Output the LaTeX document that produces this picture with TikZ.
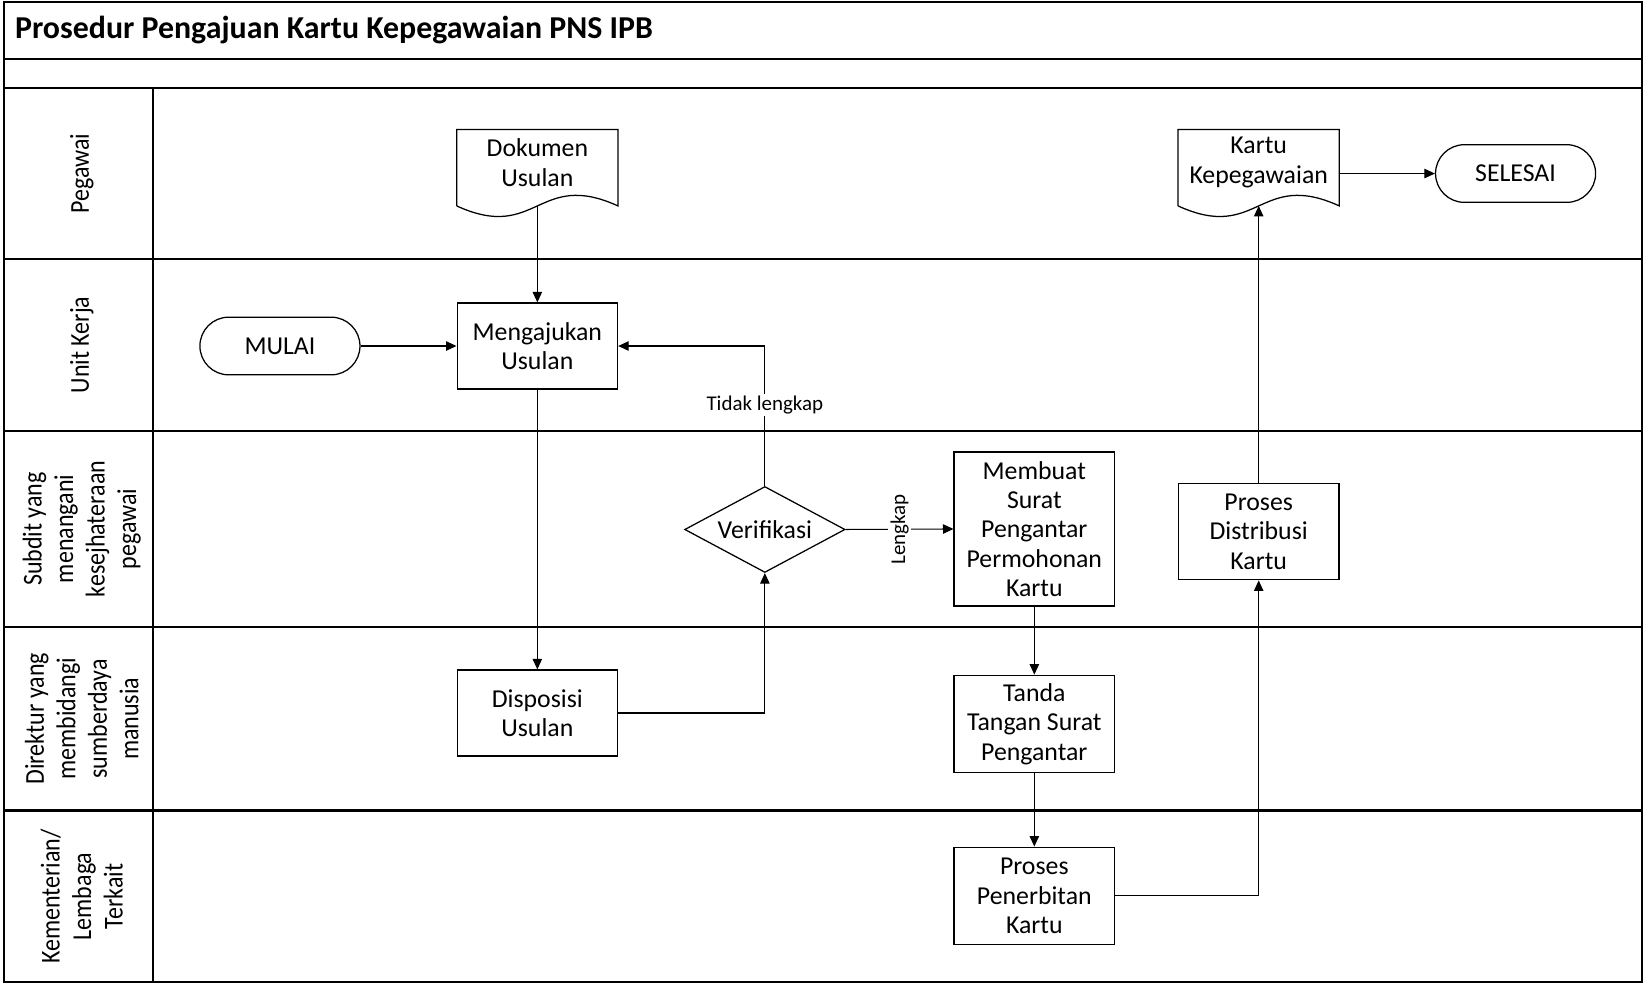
\documentclass[tikz,border=0pt]{standalone}
\usepackage{fontspec}
\setmainfont{Carlito}
\newfontfamily\lanefont[FakeStretch=0.88]{Carlito}
\usetikzlibrary{arrows.meta,shapes.geometric,shapes.misc}

\begin{document}
\begin{tikzpicture}
[x=0.5pt,y=-0.5pt,
  frameDecorate/.style={line width=1pt},
  lineDecorate/.style={-{Triangle[length=5pt,width=4.5pt]},line width=0.5pt},
  laneDecorate/.style={rotate=90,align=center,font=\lanefont\fontsize{13}{15}\selectfont},
  boxDecorate/.style={shape=rectangle,draw,line width=0.6pt,minimum width=76.5pt,
    align=center,inner sep=2pt,font=\fontsize{12.3}{14}\selectfont},
  docDecorate/.style={shape=rectangle,minimum width=76.5pt,minimum height=36pt,
    align=center,inner sep=2pt,font=\fontsize{12.3}{14}\selectfont},
  termDecorate/.style={shape=rounded rectangle,draw,line width=0.6pt,minimum width=83pt,
    minimum height=27.5pt,font=\fontsize{12.3}{14}\selectfont},
  decisionDecorate/.style={shape=diamond,draw,line width=0.6pt,shape aspect=1.87,
    minimum width=76.5pt,minimum height=41pt,inner sep=0pt,font=\fontsize{12.3}{14}\selectfont},
  labelDecorate/.style={fill=white,inner sep=1pt,font=\fontsize{10}{11}\selectfont}]
\useasboundingbox (0,0) rectangle (1568,939);
%% frame and lanes
\draw[frameDecorate] (4,2) rectangle (1566,937);
\draw[frameDecorate] (4,56) -- (1566,56);
\draw[frameDecorate] (4,84) -- (1566,84);
\draw[frameDecorate] (146,84) -- (146,937);
\node[anchor=west,inner sep=1pt,font=\bfseries\fontsize{15.2}{17}\selectfont] (title) at (12,29)
  {Prosedur Pengajuan Kartu Kepegawaian PNS IPB};
\foreach \lanename/\ytop/\ybot/\lanetext in {
  pegawai/84/247/{Pegawai},
  unit/247/411/{Unit Kerja},
  subdit/411/598/{Subdit yang\\menangani\\kesejhateraan\\pegawai},
  direktur/598/773/{Direktur yang\\membidangi\\sumberdaya\\manusia},
  kementerian/773/937/{Kementerian/\\Lembaga\\Terkait}}
{
  \draw[frameDecorate] (4,\ybot) -- (1566,\ybot);
  \node[laneDecorate] (\lanename) at (78,{(\ytop+\ybot)/2}) {\lanetext};
}
%% nodes
\node[termDecorate] (mulai) at (267,330) {MULAI};
\node[docDecorate] (dokumen) at (512.5,155) {Dokumen\\Usulan};
\node[boxDecorate,minimum height=41pt] (mengajukan) at (512.5,330) {Mengajukan\\Usulan};
\node[boxDecorate,minimum height=41pt] (disposisi) at (512.5,680) {Disposisi\\Usulan};
\node[decisionDecorate] (verifikasi) at (729.5,505) {Verifikasi};
\node[boxDecorate,minimum height=73.5pt] (membuat) at (986.5,504.5)
  {Membuat\\Surat\\Pengantar\\Permohonan\\Kartu};
\node[boxDecorate,minimum height=46.5pt] (tanda) at (986.5,690.5)
  {Tanda\\Tangan Surat\\Pengantar};
\node[boxDecorate,minimum height=46.5pt] (penerbitan) at (986.5,854.5)
  {Proses\\Penerbitan\\Kartu};
\node[boxDecorate,minimum height=46pt] (distribusi) at (1200.5,507)
  {Proses\\Distribusi\\Kartu};
\node[docDecorate] (kartu) at (1200.5,155) {Kartu\\Kepegawaian};
\node[termDecorate] (selesai) at (1445.5,165.5) {SELESAI};
%% document outlines
\foreach \docname in {dokumen,kartu}
{
  \draw[line width=0.6pt] ([yshift=-2.5pt]\docname.south west) -- ([yshift=-2.5pt]\docname.north west)
    -- ([yshift=-2.5pt]\docname.north east) -- ([yshift=-2.5pt]\docname.south east)
    .. controls +(-76.5,-35) and +(76.5,35) .. ([yshift=-2.5pt]\docname.south west);
}
%% edges or lines
\draw[lineDecorate] ([yshift=-2.5pt]dokumen.south) -- (mengajukan.north);
\draw[lineDecorate] (mulai.east) -- (mengajukan.west);
\draw[lineDecorate] (mengajukan.south) -- (disposisi.north);
\draw[lineDecorate] (disposisi.east) -| (verifikasi.south);
\draw[lineDecorate] (verifikasi.north) |- node[labelDecorate,pos=0.29] {Tidak lengkap} (mengajukan.east);
\draw[lineDecorate] (verifikasi.east) -- node[labelDecorate,rotate=90] {Lengkap} (membuat.west);
\draw[lineDecorate] (membuat.south) -- (tanda.north);
\draw[lineDecorate] (tanda.south) -- (penerbitan.north);
\draw[lineDecorate] (penerbitan.east) -| (distribusi.south);
\draw[lineDecorate] (distribusi.north) -- ([yshift=-2.5pt]kartu.south);
\draw[lineDecorate] (selesai.west -| kartu.east) -- (selesai.west);
\end{tikzpicture}
\end{document}
